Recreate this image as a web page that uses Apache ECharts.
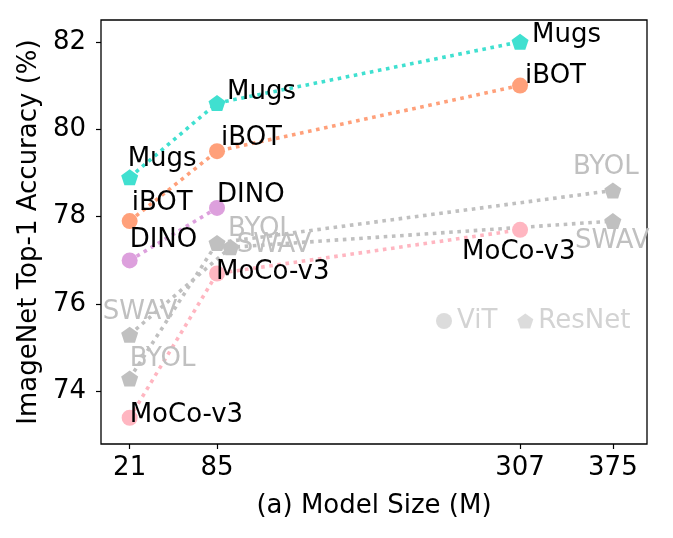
<!DOCTYPE html>
<html>
<head>
<meta charset="utf-8">
<script src="https://cdn.jsdelivr.net/npm/echarts@6/dist/echarts.min.js"></script>
<style>
  html, body { margin: 0; padding: 0; background: #fff; }
  #chart { width: 673px; height: 538px; }
</style>
</head>
<body>
<div id="chart"></div>
<script>
// model size (M) / top-1 accuracy (%)
const mugs   = [[21, 78.9], [85, 80.6], [307, 82.0]];
const ibot   = [[21, 77.9], [85, 79.5], [307, 81.0]];
const dino   = [[21, 77.0], [85, 78.2]];
const mocov3 = [[21, 73.4], [85, 76.7], [307, 77.7]];
const byol   = [[21, 74.3], [85, 77.4], [375, 78.6]];
const swav   = [[21, 75.3], [95, 77.3], [375, 77.9]];

const xTicks = [21, 85, 307, 375];
const yTicks = [74, 76, 78, 80, 82];

// where each point's text sits, relative to the marker centre
const mugsOffsets   = [[-2, -18], [10, -11], [12, -7]];
const ibotOffsets   = [[2, -18], [4, -13], [5, -9]];
const dinoOffsets   = [[0, -20], [0, -13]];
const mocov3Offsets = [[0, -3], [-1, -1], [-58, 22]];
const byolOffsets   = [[0, -19], [11, -14], [-40, -23]];
const swavOffsets   = [[-27, -22], [6, -2], [-38, 20]];

const FONT = 'DejaVu Sans';
const pentagon = 'path://M0,-1L0.951,-0.309L0.588,0.809L-0.588,0.809L-0.951,-0.309Z';

function method(name, pts, offsets, color, textColor, symbol) {
    const isPent = symbol === 'pentagon';
    return {
        name: name,
        type: 'line',
        data: pts.map((p, i) => ({
            value: p,
            label: { offset: offsets[i] }
        })),
        symbol: isPent ? pentagon : 'circle',
        symbolSize: isPent ? [17, 16] : 16,
        itemStyle: { color: color },
        lineStyle: { color: color, width: 3.6, type: [3.6, 4.6], cap: 'butt' },
        label: {
            show: true,
            position: 'inside',
            align: 'left',
            verticalAlign: 'middle',
            formatter: name,
            color: textColor,
            fontFamily: FONT,
            fontSize: 26
        },
        emphasis: { disabled: true },
        animation: false,
        z: 3
    };
}

const chart = echarts.init(document.getElementById('chart'), null, { renderer: 'canvas' });

chart.setOption({
    backgroundColor: '#fff',
    animation: false,
    grid: {
        left: 101, right: 26, top: 20, bottom: 94,
        show: true, borderColor: '#000', borderWidth: 1.3, backgroundColor: 'transparent'
    },
    legend: {
        left: 436, top: 308, padding: 0,
        selectedMode: false,
        itemWidth: 16, itemHeight: 16, itemGap: 20,
        textStyle: { color: '#d3d3d3', fontFamily: FONT, fontSize: 26 },
        data: [{ name: 'ViT', icon: 'circle' }, { name: 'ResNet', icon: pentagon }]
    },
    xAxis: {
        type: 'value', min: 0, max: 400,
        name: '(a) Model Size (M)', nameLocation: 'middle', nameGap: 49,
        nameTextStyle: { color: '#000', fontFamily: FONT, fontSize: 26 },
        axisLine: { show: false },
        axisTick: { show: true, length: 5, customValues: xTicks, lineStyle: { color: '#000', width: 1.2 } },
        axisLabel: { customValues: xTicks, margin: 11, color: '#000', fontFamily: FONT, fontSize: 26 },
        splitLine: { show: false }
    },
    yAxis: {
        type: 'value', min: 72.8, max: 82.5,
        name: 'ImageNet Top-1 Accuracy (%)', nameLocation: 'middle', nameGap: 53,
        nameTextStyle: { color: '#000', fontFamily: FONT, fontSize: 26 },
        axisLine: { show: false },
        axisTick: { show: true, length: 5, customValues: yTicks, lineStyle: { color: '#000', width: 1.2 } },
        axisLabel: { customValues: yTicks, margin: 15, color: '#000', fontFamily: FONT, fontSize: 26 },
        splitLine: { show: false }
    },
    series: [
        method('BYOL', byol, byolOffsets, '#c0c0c0', '#c0c0c0', 'pentagon'),
        method('SWAV', swav, swavOffsets, '#c0c0c0', '#c0c0c0', 'pentagon'),
        method('MoCo-v3', mocov3, mocov3Offsets, '#ffb6c1', '#000', 'circle'),
        method('DINO', dino, dinoOffsets, '#dda0dd', '#000', 'circle'),
        method('iBOT', ibot, ibotOffsets, '#ffa07a', '#000', 'circle'),
        method('Mugs', mugs, mugsOffsets, '#40e0d0', '#000', 'pentagon'),
        { name: 'ViT', type: 'scatter', data: [], symbol: 'circle', itemStyle: { color: '#d3d3d3' } },
        { name: 'ResNet', type: 'scatter', data: [], symbol: pentagon, itemStyle: { color: '#d3d3d3' } }
    ]
});
</script>
</body>
</html>
